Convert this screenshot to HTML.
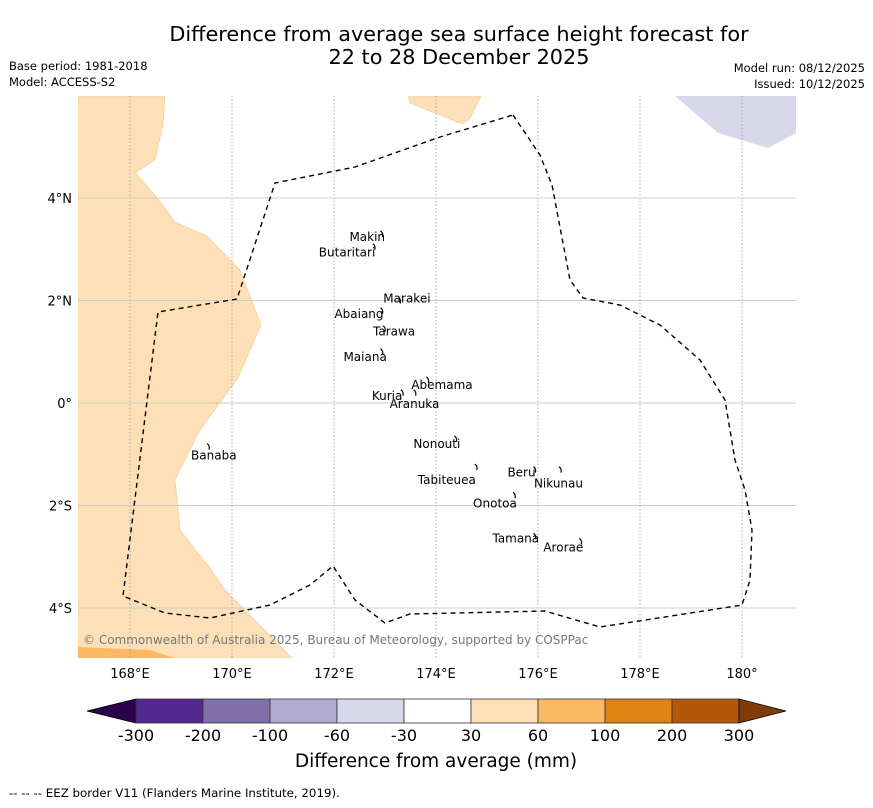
<!DOCTYPE html>
<html><head><meta charset="utf-8"><style>
body{margin:0;background:#fff;width:873px;height:804px;overflow:hidden;font-family:"DejaVu Sans","Liberation Sans",sans-serif;}
</style></head><body>
<svg id="s" width="873" height="804" xmlns="http://www.w3.org/2000/svg" font-family="DejaVu Sans, Liberation Sans, sans-serif">
<text x="459" y="41" font-size="20.8" text-anchor="middle">Difference from average sea surface height forecast for</text>
<text x="459" y="64" font-size="20.8" text-anchor="middle">22 to 28 December 2025</text>
<text x="9" y="70" font-size="11.5">Base period: 1981-2018</text>
<text x="9" y="86" font-size="11.5">Model: ACCESS-S2</text>
<text x="865" y="72" font-size="11.5" text-anchor="end">Model run: 08/12/2025</text>
<text x="865" y="88" font-size="11.5" text-anchor="end">Issued: 10/12/2025</text>
<defs><clipPath id="c"><rect x="78" y="96" width="718" height="562"/></clipPath></defs>
<g clip-path="url(#c)">
<polygon fill="#fee0b8" stroke="#f0c890" stroke-width="0.6" points="78,96 165,96 163,125 155,160 135,173 155,195 175,222 207,236 240,270 261,325 238,378 200,430 175,480 180,530 210,568 225,590 292,658 78,658"/>
<polygon fill="#fee0b8" stroke="#f0c890" stroke-width="0.6" points="408,96 481,96 470,118 462,124 410,103"/>
<polygon fill="#d8d8ea" points="675,96 796,96 796,133 768,148 718,133"/>
<polygon fill="#fdb863" points="78,647 150,650 175,658 78,658"/>
<g id="grid"></g>
<polyline fill="none" stroke="#000" stroke-width="1.4" stroke-dasharray="5,4" points="513,115 540,155 552,185 570,280 583,298 620,305 660,325 700,360 725,400 735,460 745,490 752,530 750,580 742,605 600,627 545,611 410,614 385,623 355,600 333,566 310,585 270,605 210,618 165,613 123,596 158,312 237,299 275,183 355,167 440,137 513,115"/>
<g id="isl"></g>
<text x="83" y="644" font-size="12" fill="#777">© Commonwealth of Australia 2025, Bureau of Meteorology, supported by COSPPac</text>
</g>
<g id="ticks"></g>
<g id="cb"></g>
<text x="436" y="767" font-size="18.5" text-anchor="middle">Difference from average (mm)</text>
<text x="9" y="797" font-size="11.8">--  --  -- EEZ border V11 (Flanders Marine Institute, 2019).</text>
</svg>
<script>
const lonTicks=[168,170,172,174,176,178,180];
const latTicks=[4,2,0,-2,-4];
const levels=[-300,-200,-100,-60,-30,30,60,100,200,300];
const colors=["#54278f","#8070aa","#b0a9d0","#d8d8ea","#ffffff","#fee0b6","#fdb863","#e08214","#b35806"];
const islandNames=["Makin","Butaritari","Marakei","Abaiang","Tarawa","Maiana","Abemama","Kuria","Aranuka","Banaba","Nonouti","Beru","Nikunau","Tabiteuea","Onotoa","Tamana","Arorae"];
const islandLon=[172.95,172.8,173.3,172.95,173.0,172.95,173.85,173.35,173.6,169.55,174.4,175.95,176.45,174.8,175.55,175.95,176.85];
const islandLat=[3.3,3.05,2.0,1.8,1.45,1.0,0.45,0.2,0.2,-0.85,-0.7,-1.3,-1.3,-1.25,-1.8,-2.6,-2.7];
const labelDx=[-33,-56,-17,-48,-12,-39,-17,-31,-26,-18,-43,-28,-27,-59,-42,-43,-38];
const labelDy=[7,10,2,7,7,9,9,7,15,13,9,7,18,17,12,6,10];
const NS="http://www.w3.org/2000/svg";
const x=lon=>130+(lon-168)*51;
const y=lat=>403-lat*51.25;
function mk(t,a,p){const e=document.createElementNS(NS,t);for(const k in a)e.setAttribute(k,a[k]);p.appendChild(e);return e;}
const g=document.getElementById('grid'),tk=document.getElementById('ticks');
lonTicks.forEach(l=>{
 const ln=mk('line',{x1:x(l),x2:x(l),y1:96,y2:658,stroke:'#999','stroke-width':0.8,'stroke-dasharray':'1.5,2'},g);
 
 const t=mk('text',{x:x(l),y:678,'font-size':13,'text-anchor':'middle'},tk);
 t.textContent=l===180?'180°':l+'°E';
 
});
latTicks.forEach(l=>{
 const ln=mk('line',{x1:78,x2:796,y1:y(l),y2:y(l),stroke:'#ccc','stroke-width':1},g);
 
 const t=mk('text',{x:72,y:y(l)+5,'font-size':13,'text-anchor':'end'},tk);
 t.textContent=l===0?'0°':Math.abs(l)+'°'+(l>0?'N':'S');
 
});
const is=document.getElementById('isl');
islandNames.forEach((n,i)=>{
 const px=x(islandLon[i]),py=y(islandLat[i]);
 const m=mk('path',{d:`M${px-2},${py-3} q3,2 2,6`,stroke:'#000','stroke-width':1.2,fill:'none'},is);
 
 const t=mk('text',{x:px+labelDx[i],y:py+labelDy[i],'font-size':12},is);
 t.textContent=n;
 
});
const cb=document.getElementById('cb');
const bw=67,bx0=136,by=699,bh=24;
const lt=mk('polygon',{points:`87,711 ${bx0},${by} ${bx0},${by+bh}`,fill:'#2d004b',stroke:'#000','stroke-width':0.8},cb);

colors.forEach((c,i)=>{
 const r=mk('rect',{x:bx0+i*bw,y:by,width:bw,height:bh,fill:c,stroke:'#333','stroke-width':0.8},cb);
 
});
const xe=bx0+colors.length*bw;
const rt=mk('polygon',{points:`${xe},${by} 786,711 ${xe},${by+bh}`,fill:'#7f3b08',stroke:'#000','stroke-width':0.8},cb);

levels.forEach((v,i)=>{
 const t=mk('text',{x:bx0+i*bw,y:741,'font-size':16,'text-anchor':'middle'},cb);
 t.textContent=v;
 
});
</script>
</body></html>
